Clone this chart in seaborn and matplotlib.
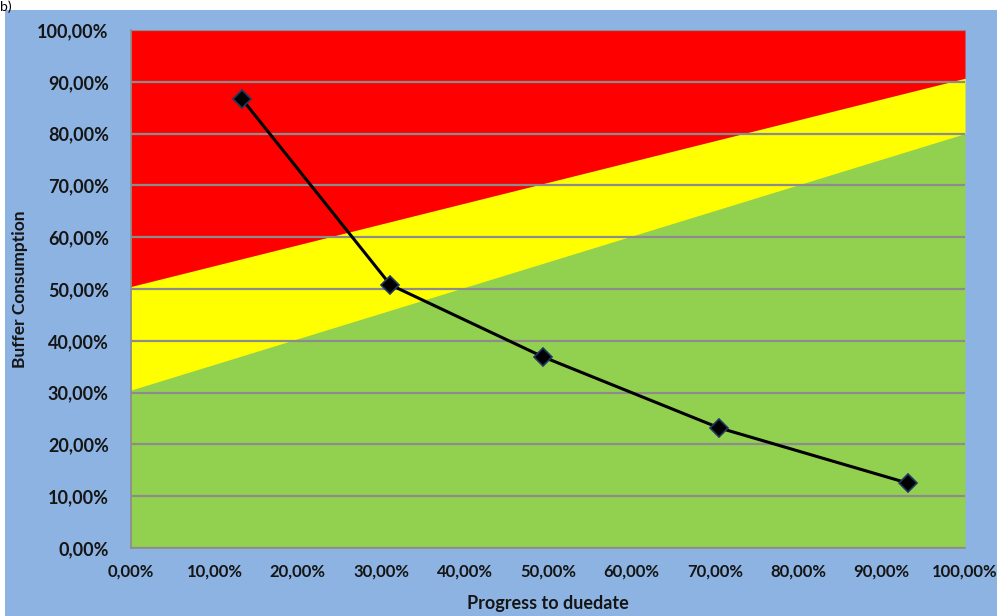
import matplotlib
matplotlib.use("Agg")
import matplotlib.pyplot as plt
import seaborn as sns
import pandas as pd
from matplotlib.ticker import FuncFormatter, MultipleLocator

# Buffer consumption vs. progress to due date (values in %)
progress = [13.3, 31.1, 49.4, 70.5, 93.2]
consumption = [86.7, 50.8, 36.9, 23.2, 12.5]

# Zone boundaries at 0% and 100% progress
zone_x = [0, 100]
green_top = [30.5, 80.0]
yellow_top = [50.5, 90.7]
chart_top = [100, 100]

bg_blue = "#8DB3E2"
green = "#92D050"
yellow = "#FFFF00"
red = "#FF0000"
grid_grey = "#8C8C8C"
text_col = "#151515"

sns.set_theme(style="white")
plt.rcParams["font.family"] = ["Lato", "DejaVu Sans"]

W, H = 997, 616
fig = plt.figure(figsize=(W / 100, H / 100), dpi=100, facecolor="white")
# blue chart area below the white strip
fig.patches.append(plt.Rectangle((5 / W, 0), 1 - 5 / W, 1 - 10 / H,
                                 transform=fig.transFigure, facecolor=bg_blue,
                                 edgecolor="none", zorder=-10))
fig.text(0.0, 1.0, "b)", ha="left", va="top", fontsize=10, color="black")

left, right, top, bottom = 131, 965, 30, 548
ax = fig.add_axes([left / W, (H - bottom) / H, (right - left) / W, (bottom - top) / H])
ax.set_facecolor(green)

ax.fill_between(zone_x, 0, green_top, color=green, linewidth=0, zorder=1)
ax.fill_between(zone_x, green_top, yellow_top, color=yellow, linewidth=0, zorder=1)
ax.fill_between(zone_x, yellow_top, chart_top, color=red, linewidth=0, zorder=1)

ax.set_xlim(0, 100)
ax.set_ylim(0, 100)
ax.yaxis.set_major_locator(MultipleLocator(10))
ax.xaxis.set_major_locator(MultipleLocator(10))
ax.grid(axis="y", color=grid_grey, linewidth=1.6, zorder=2)
ax.grid(axis="x", visible=False)
ax.set_axisbelow(False)

df = pd.DataFrame({"progress": progress, "consumption": consumption})
sns.lineplot(data=df, x="progress", y="consumption", ax=ax, color="black",
             linewidth=2.2, marker="D", markersize=9, markerfacecolor="black",
             markeredgecolor="#1F3A60", markeredgewidth=1.2, zorder=5)

fmt = FuncFormatter(lambda v, _: f"{v:.2f}%".replace(".", ","))
ax.xaxis.set_major_formatter(fmt)
ax.yaxis.set_major_formatter(fmt)

for side in ["top", "right"]:
    ax.spines[side].set_visible(False)
for side in ["left", "bottom"]:
    ax.spines[side].set_color(grid_grey)
    ax.spines[side].set_linewidth(1.2)

ax.tick_params(axis="both", which="major", direction="out", length=6, width=1.2,
               color=grid_grey, labelcolor=text_col)
ax.tick_params(axis="y", pad=10, labelsize=13)
ax.tick_params(axis="x", pad=5, labelsize=12)
for lab in ax.get_xticklabels() + ax.get_yticklabels():
    lab.set_fontweight("bold")

ax.set_xlabel("Progress to duedate", fontsize=13, fontweight="bold", color=text_col)
ax.set_ylabel("Buffer Consumption", fontsize=12.5, fontweight="bold", color=text_col)
ax.xaxis.set_label_coords(0.5, -(603 - bottom) / (bottom - top))
ax.xaxis.label.set_va("center")
ax.yaxis.set_label_coords(-(left - 20) / (right - left), 0.5)
ax.yaxis.label.set_va("center")

fig.savefig("out.png", dpi=100, facecolor="white")
